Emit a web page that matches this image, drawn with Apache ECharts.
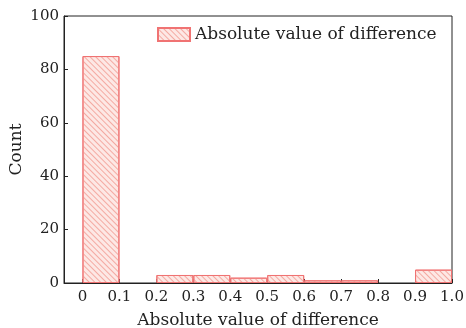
<!DOCTYPE html>
<html>
<head>
<meta charset="utf-8">
<script src="https://cdn.jsdelivr.net/npm/echarts@6/dist/echarts.min.js"></script>
<style>
  html, body { margin: 0; padding: 0; background: #fff; }
  #main { width: 466px; height: 328px; }
</style>
</head>
<body>
<div id="main"></div>
<script>
var chartDom = document.getElementById('main');
var myChart = echarts.init(chartDom);
var option;

// 每个区间的起点（宽 0.1）
var binStarts = [0, 0.1, 0.2, 0.3, 0.4, 0.5, 0.6, 0.7, 0.8, 0.9];
var binWidth = 0.1;
// 各区间计数
var counts = [85, 0, 3, 3, 2, 3, 1, 1, 0, 5];
// 刻度值
var xTicks = [0, 0.1, 0.2, 0.3, 0.4, 0.5, 0.6, 0.7, 0.8, 0.9, 1.0];
var seriesName = 'Absolute value of difference';

var font = 'DejaVu Serif';

var data = [];
binStarts.forEach(function (s, i) {
    if (counts[i] > 0) {
        data.push([s + binWidth / 2, counts[i]]);
    }
});

option = {
    aria: { enabled: true, decal: { show: true } },
    animation: false,
    grid: {
        left: 64,
        right: 14,
        top: 16,
        bottom: 45,
        outerBoundsMode: 'none',
        containLabel: false,
        show: true,
        borderColor: '#222',
        borderWidth: 1
    },
    legend: {
        data: [seriesName],
        left: 152,
        top: 21,
        icon: 'rect',
        itemWidth: 32,
        itemHeight: 13,
        itemGap: 4,
        textStyle: { fontFamily: font, fontSize: 17, color: '#222' }
    },
    xAxis: {
        type: 'value',
        min: -0.05,
        max: 1.0,
        name: 'Absolute value of difference',
        nameLocation: 'middle',
        nameGap: 29,
        nameTextStyle: { fontFamily: font, fontSize: 17, color: '#222' },
        axisLine: { onZero: false, lineStyle: { color: '#222' } },
        axisTick: {
            inside: true,
            length: 4,
            customValues: xTicks,
            lineStyle: { color: '#222' }
        },
        axisLabel: {
            customValues: xTicks,
            fontFamily: font,
            fontSize: 15,
            color: '#222',
            margin: 7,
            formatter: function (v) {
                return v === 0 ? '0' : v.toFixed(1);
            }
        },
        splitLine: { show: false }
    },
    yAxis: {
        type: 'value',
        min: 0,
        max: 100,
        interval: 20,
        name: 'Count',
        nameLocation: 'middle',
        nameGap: 39,
        nameMoveOverlap: false,
        nameTextStyle: { fontFamily: font, fontSize: 17, color: '#222' },
        axisLine: { show: true, onZero: false, lineStyle: { color: '#222' } },
        axisTick: { show: true, inside: true, length: 4, lineStyle: { color: '#222' } },
        axisLabel: { fontFamily: font, fontSize: 15, color: '#222', margin: 5 },
        splitLine: { show: false }
    },
    series: [
        {
            name: seriesName,
            type: 'bar',
            barWidth: '100%',
            data: data,
            itemStyle: {
                color: '#fde8e5',
                borderColor: '#f07373',
                borderWidth: 1,
                decal: {
                    symbol: 'rect',
                    symbolSize: 1,
                    color: '#f4aaa2',
                    dashArrayX: [1, 0],
                    dashArrayY: [1, 3],
                    rotation: Math.PI / 4
                }
            }
        }
    ]
};

option && myChart.setOption(option);
</script>
</body>
</html>
